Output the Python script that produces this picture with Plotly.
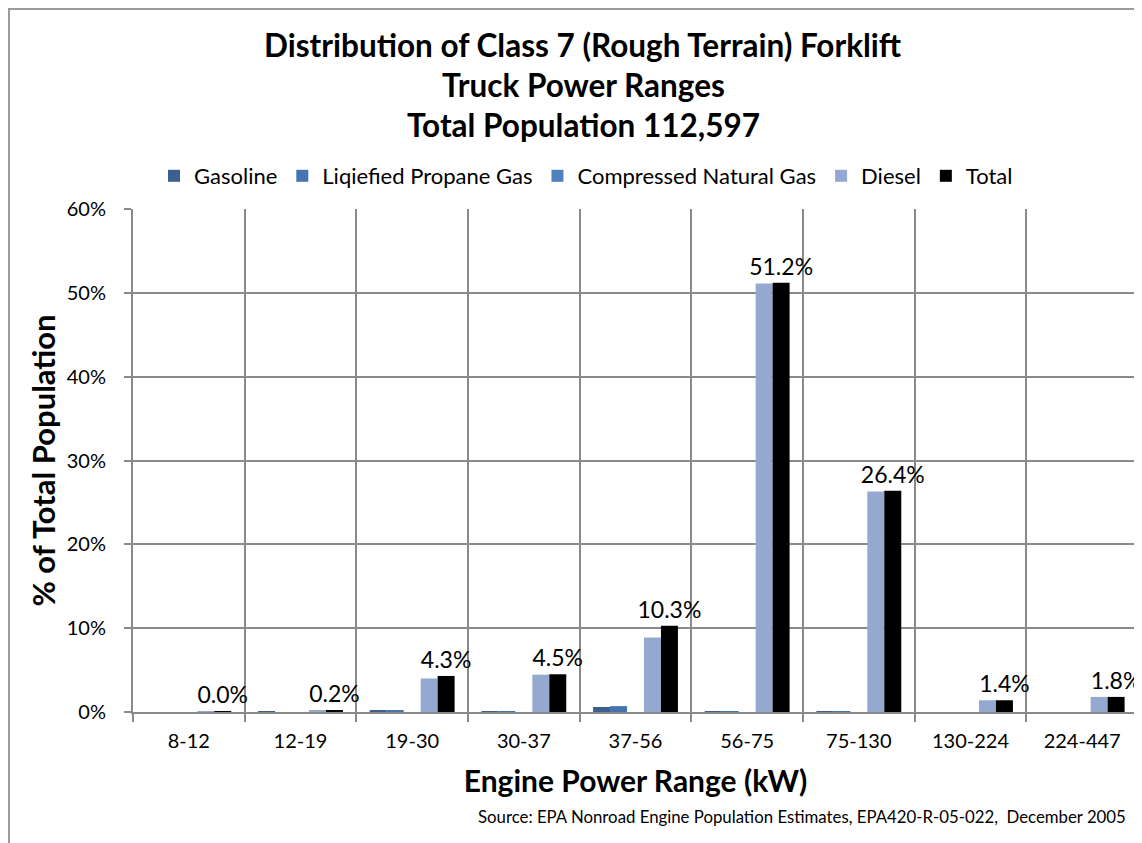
import plotly.graph_objects as go

# ─────────────────────────────────────────────
# DATOS (% de la población total)
# ─────────────────────────────────────────────
RANGES = ["8-12", "12-19", "19-30", "30-37", "37-56", "56-75", "75-130", "130-224", "224-447"]

GASOLINE = [0.0, 0.05, 0.15, 0.1, 0.6, 0.1, 0.1, 0.0, 0.0]
LPG      = [0.0, 0.0, 0.15, 0.1, 0.7, 0.1, 0.1, 0.0, 0.0]
CNG      = [0.0, 0.0, 0.0, 0.0, 0.0, 0.0, 0.0, 0.0, 0.0]
DIESEL   = [0.03, 0.15, 4.0, 4.45, 8.9, 51.1, 26.3, 1.4, 1.8]
TOTAL    = [0.04, 0.2, 4.3, 4.5, 10.3, 51.2, 26.4, 1.4, 1.8]

SERIES = [
    ("Gasoline", GASOLINE, "#3B5F8F"),
    ("Liqiefied Propane Gas", LPG, "#4674B0"),
    ("Compressed Natural Gas", CNG, "#4F81BD"),
    ("Diesel", DIESEL, "#95A9D0"),
    ("Total", TOTAL, "#000000"),
]

TITLE_LINES = [
    "Distribution of Class 7 (Rough Terrain) Forklift",
    "Truck Power Ranges",
    "Total Population 112,597",
]
SOURCE = "Source: EPA Nonroad Engine Population Estimates, EPA420-R-05-022,  December 2005"

FONT = "Lato, 'Open Sans', sans-serif"
GRID = "#8a8a8a"

# la página HTML añade 8px de margen al body
OFF = 8
W, H = 1142 - OFF, 843 - OFF
L, R, T, B = 133 - OFF, 4, 209 - OFF, 131
PW, PH = W - L - R, H - T - B


def px_x(x):
    return (x - OFF - L) / PW


def px_y(y):
    return (H - B - (y - OFF)) / PH


fig = go.Figure()
for name, vals, color in SERIES:
    is_total = name == "Total"
    fig.add_trace(go.Bar(
        name=name,
        x=RANGES,
        y=vals,
        marker=dict(color=color, line=dict(width=0)),
        text=vals if is_total else None,
        texttemplate="%{y:.1f}%" if is_total else None,
        textposition="outside" if is_total else "none",
        constraintext="none",
        textfont=dict(size=23, color="black", family=FONT),
        cliponaxis=False,
    ))

annotations = []
for i, line in enumerate(TITLE_LINES):
    annotations.append(dict(
        text=f"<b>{line}</b>", x=px_x(583), y=px_y(45 + 40 * i),
        xref="paper", yref="paper", showarrow=False,
        xanchor="center", yanchor="middle",
        font=dict(size=31.5, color="black", family=FONT),
    ))
annotations.append(dict(
    text=SOURCE, x=px_x(1128), y=px_y(816), xref="paper", yref="paper",
    showarrow=False, xanchor="right", yanchor="middle",
    font=dict(size=16.8, color="black", family=FONT),
))

fig.update_layout(
    width=W, height=H,
    margin=dict(l=L, r=R, t=T, b=B),
    paper_bgcolor="white",
    plot_bgcolor="white",
    font=dict(family=FONT, color="black"),
    barmode="group",
    bargap=0.24,
    bargroupgap=0,
    legend=dict(
        orientation="h",
        x=px_x(586), y=px_y(176),
        xanchor="center", yanchor="middle",
        font=dict(size=22, family=FONT),
        itemsizing="constant",
    ),
    xaxis=dict(
        type="category",
        automargin=False,
        tickson="boundaries",
        showgrid=True,
        gridcolor=GRID,
        gridwidth=2,
        ticks="outside",
        ticklen=8,
        tickwidth=2,
        tickcolor=GRID,
        ticklabelstandoff=10,
        showline=True,
        linecolor=GRID,
        linewidth=2,
        tickfont=dict(size=20),
        title=dict(text="<b>Engine Power Range (kW)</b>", font=dict(size=30), standoff=20),
    ),
    yaxis=dict(
        range=[0, 60],
        dtick=10,
        automargin=False,
        ticksuffix="%",
        showgrid=True,
        gridcolor=GRID,
        gridwidth=2,
        showline=True,
        mirror=True,
        linecolor=GRID,
        linewidth=2,
        ticks="outside",
        ticklen=7,
        tickwidth=2,
        tickcolor=GRID,
        ticklabelstandoff=14,
        zeroline=False,
        tickfont=dict(size=20),
        title=dict(text="<b>% of Total Population</b>", font=dict(size=31), standoff=2),
    ),
    annotations=annotations,
    shapes=[dict(
        type="rect", xref="paper", yref="paper",
        x0=px_x(9), x1=px_x(1160), y0=px_y(870), y1=px_y(9),
        line=dict(color="#9a9a9a", width=2), fillcolor="rgba(0,0,0,0)",
        layer="below",
    )],
)

fig.write_html("out.html")
